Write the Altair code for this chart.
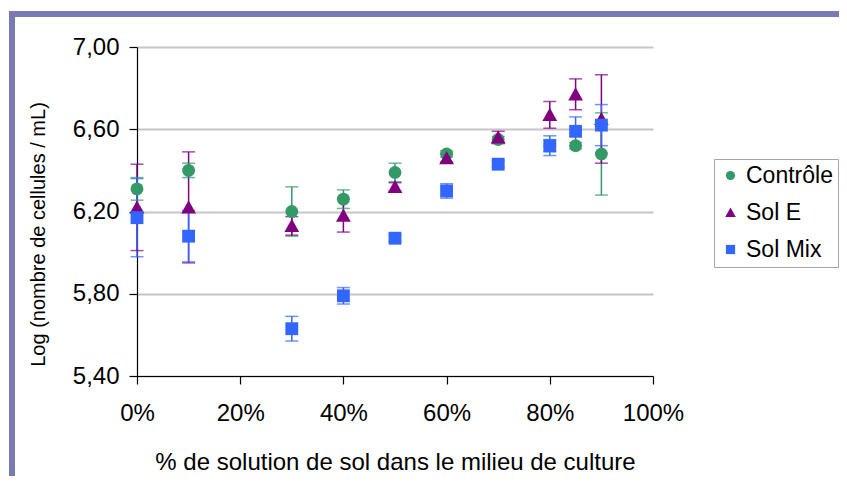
import altair as alt
import pandas as pd

# ---- data ----
pct = [0, 10, 30, 40, 50, 60, 70, 80, 85, 90]
series_names = ["Contrôle", "Sol E", "Sol Mix"]

controle = [6.31, 6.40, 6.20, 6.26, 6.39, 6.48, 6.55, 6.52, 6.52, 6.48]
controle_err = [0.055, 0.035, 0.12, 0.045, 0.045, 0.015, 0.015, 0.03, 0.015, 0.20]

sol_e = [6.22, 6.22, 6.13, 6.18, 6.32, 6.46, 6.56, 6.67, 6.77, 6.65]
sol_e_err = [0.21, 0.27, 0.045, 0.08, 0.02, 0.02, 0.03, 0.065, 0.075, 0.215]

sol_mix = [6.17, 6.08, 5.63, 5.79, 6.07, 6.30, 6.43, 6.52, 6.59, 6.62]
sol_mix_err = [0.19, 0.125, 0.06, 0.04, 0.015, 0.035, 0.015, 0.048, 0.07, 0.10]

y_ticks = [5.4, 5.8, 6.2, 6.6, 7.0]
x_ticks = [0, 20, 40, 60, 80, 100]

colors = ["#339966", "#800080", "#3366FF"]
shapes = ["circle", "M-1.15,0.95L1.15,0.95L0,-1.1Z", "square"]

rows = []
for name, vals, errs in zip(series_names, [controle, sol_e, sol_mix],
                            [controle_err, sol_e_err, sol_mix_err]):
    for x, v, e in zip(pct, vals, errs):
        rows.append({"series": name, "x": x, "y": v, "lo": v - e, "hi": v + e})
df = pd.DataFrame(rows)

FONT = "Liberation Sans"

x_enc = alt.X("x:Q",
              scale=alt.Scale(domain=[0, 100], nice=False, zero=False),
              axis=alt.Axis(values=x_ticks, labelExpr="datum.value + '%'",
                            title="% de solution de sol dans le milieu de culture",
                            grid=False, tickSize=8, labelPadding=17,
                            labelFlush=False, titlePadding=25,
                            titleFontSize=24))
y_scale = alt.Scale(domain=[5.4, 7.0], nice=False, zero=False)
y_axis = alt.Axis(values=y_ticks,
                  labelExpr="replace(format(datum.value, '.2f'), '.', ',')",
                  title="Log (nombre de cellules / mL)",
                  grid=True, gridColor="#C6C6C6", gridWidth=2,
                  tickSize=8, labelPadding=10, labelFlush=False,
                  titleFontSize=20,
                  titleX=-99, titleY=187, titleAngle=270,
                  titleBaseline="middle", titleAlign="center")

legend = alt.Legend(title=None, orient="none",
                    legendX=577, legendY=112,
                    padding=5, strokeColor="#A6A6A6",
                    fillColor="white",
                    symbolSize=85, symbolOpacity=1, labelFontSize=23,
                    labelFont=FONT, labelOffset=4,
                    rowPadding=13, symbolStrokeWidth=0)

color_enc = alt.Color("series:N",
                      scale=alt.Scale(domain=series_names, range=colors),
                      legend=legend)
shape_enc = alt.Shape("series:N",
                      scale=alt.Scale(domain=series_names, range=shapes),
                      legend=legend)

base = alt.Chart(df)

err_lines = base.mark_rule(strokeWidth=1.5).encode(
    x=x_enc,
    y=alt.Y("lo:Q", scale=y_scale, axis=y_axis),
    y2="hi:Q",
    color=color_enc,
)

err_caps = base.transform_fold(["lo", "hi"], as_=["k", "v"]).mark_tick(
    orient="horizontal", size=13, thickness=1.5
).encode(
    x="x:Q",
    y=alt.Y("v:Q", scale=y_scale),
    color=color_enc,
)

points = base.mark_point(filled=True, size=165, opacity=1).encode(
    x="x:Q",
    y=alt.Y("y:Q", scale=y_scale),
    color=color_enc,
    shape=shape_enc,
)

frame_df = pd.DataFrame({"a": [0]})
frame_color = "#7A7AB2"
top_border = alt.Chart(frame_df).mark_rule(color=frame_color, strokeWidth=6).encode(
    x=alt.value(-128), x2=alt.value(702), y=alt.value(-33))
left_border = alt.Chart(frame_df).mark_rule(color=frame_color, strokeWidth=6).encode(
    x=alt.value(-125), y=alt.value(-36), y2=alt.value(429))

chart = alt.layer(err_lines, err_caps, points, top_border, left_border).properties(
    width=516, height=329,
    autosize=alt.AutoSizeParams(type="none"),
    padding={"left": 129, "top": 39, "right": 186, "bottom": 100},
    background="white",
).configure_view(stroke=None).configure_axis(
    labelFont=FONT, titleFont=FONT, labelFontSize=24,
    labelColor="black", titleColor="black", titleFontWeight="normal",
    domainColor="black", tickColor="black", domainWidth=1.2, tickWidth=1.2,
).configure_legend(labelColor="black")

chart.save("out.html", embed_options={"renderer": "svg", "actions": False})
